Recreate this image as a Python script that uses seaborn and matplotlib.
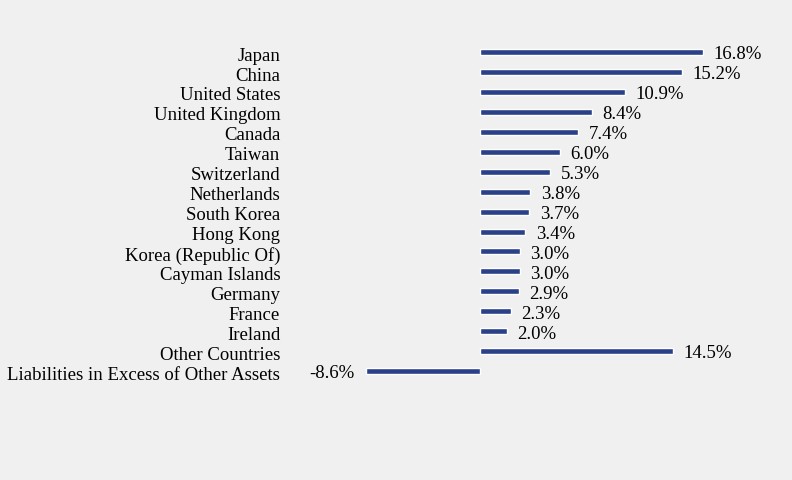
import pandas as pd
import matplotlib.pyplot as plt
import matplotlib.transforms as mtransforms
import seaborn as sns

# country allocation, % of net assets
countries = [
    'Japan', 'China', 'United States', 'United Kingdom', 'Canada', 'Taiwan',
    'Switzerland', 'Netherlands', 'South Korea', 'Hong Kong',
    'Korea (Republic Of)', 'Cayman Islands', 'Germany', 'France', 'Ireland',
    'Other Countries', 'Liabilities in Excess of Other Assets'
]
values = [16.8, 15.2, 10.9, 8.4, 7.4, 6.0, 5.3, 3.8, 3.7, 3.4, 3.0, 3.0, 2.9,
          2.3, 2.0, 14.5, -8.6]

df = pd.DataFrame({'Country': countries, 'Value': values})

sns.set_style('white')
plt.rcParams['font.family'] = ['Liberation Serif', 'DejaVu Serif']
plt.rcParams['text.color'] = 'black'
plt.rcParams['ytick.color'] = 'black'

fig = plt.figure(figsize=(7.92, 4.8), dpi=100, facecolor='#f0f0f0')
ax = fig.add_axes([0.366, 0.206, 0.619, 0.7065])
ax.set_facecolor('#f0f0f0')

sns.barplot(data=df, x='Value', y='Country', color='#2a4189', width=0.3,
            saturation=1, ax=ax)

ax.set_xlim(-14.32, 22.6)
ax.set_ylim(16.5, -0.5)
ax.set_xlabel('')
ax.set_ylabel('')
ax.set_xticks([])
ax.tick_params(axis='y', length=0, pad=7, labelsize=13.5, labelcolor='black')
for s in ax.spines.values():
    s.set_visible(False)

# nudge category labels down a touch so they sit like the original
shift = mtransforms.ScaledTranslation(0, -1.5 / 72, fig.dpi_scale_trans)
for lab in ax.get_yticklabels():
    lab.set_transform(lab.get_transform() + shift)

for i, v in enumerate(values):
    if v >= 0:
        ax.annotate(f'{v:.1f}%', (v, i), xytext=(7.5, -2), textcoords='offset points',
                    ha='left', va='center', fontsize=13.5)
    else:
        ax.annotate(f'{v:.1f}%', (v, i), xytext=(-8, -2), textcoords='offset points',
                    ha='right', va='center', fontsize=13.5)

fig.savefig('out.png', dpi=100, facecolor='#f0f0f0')
